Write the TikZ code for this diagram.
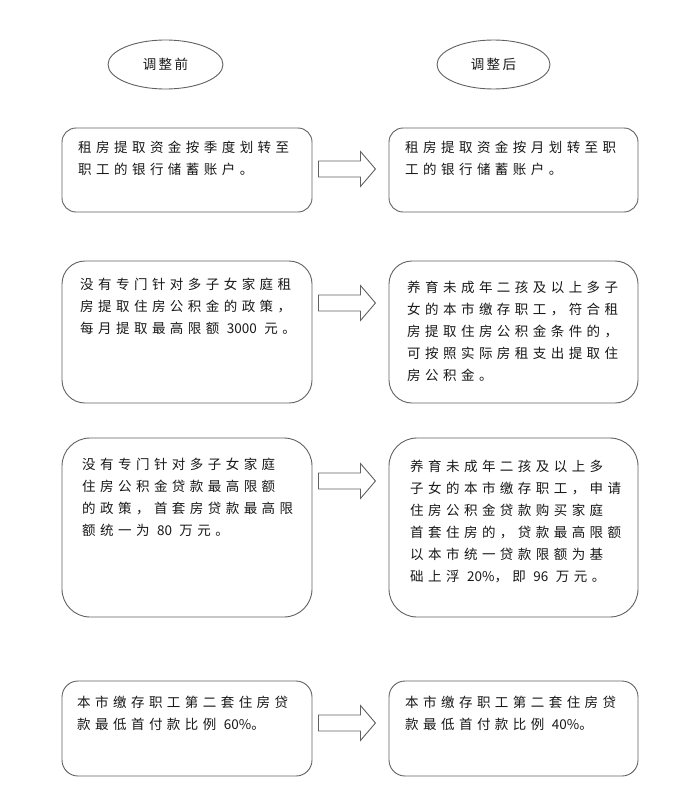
\documentclass[tikz,border=0pt]{standalone}
\usepackage{fontspec}
\newfontfamily\cjk[LetterSpace=33]{Noto Sans CJK SC}
\newfontfamily\cjklat{Noto Sans CJK SC}
\newfontfamily\cjkhead[LetterSpace=18]{Noto Sans CJK SC}
\newcommand{\nm}[1]{{\cjklat #1}}
\usetikzlibrary{shapes.geometric,calc}
\tikzset{
  box/.style={draw=black!62, line width=0.9pt, rounded corners=#1, minimum width=250pt, inner sep=0pt},
  oval/.style={ellipse, draw=black!62, line width=0.9pt, minimum height=49pt, inner sep=0pt,
    font=\cjkhead\fontsize{13.5}{16}\selectfont, text=black!90},
  txt/.style={anchor=north west, inner sep=0pt, align=left,
    font=\cjk\fontsize{13.5}{22}\selectfont, text=black!90},
  blockarrow/.style={draw=black!62, line width=0.9pt, fill=white, line join=miter}
}
\newcommand{\blockarr}[1]{%
  \draw[blockarrow] ($(#1)+(0,8)$) -- ++(42,0) -- ++(0,9.5) -- ++(15,-17.5)
    -- ++(-15,-17.5) -- ++(0,9.5) -- ++(-42,0) -- cycle;}
\begin{document}
\begin{tikzpicture}[x=1pt,y=1pt]
\useasboundingbox (0,0) rectangle (685,-800);
\fill[white] (0,0) rectangle (685,-800);

% headings
\node[oval, minimum width=115pt] (hl) at (165.5,-64.5) {调整前};
\node[oval, minimum width=113pt] (hr) at (493.5,-64.5) {调整后};

% boxes
\node[box=14, minimum height=84pt] (b1l) at (187,-170) {};
\node[box=14, minimum height=84pt, minimum width=249pt] (b1r) at (513.5,-170) {};
\node[box=23, minimum height=142pt] (b2l) at (187,-332) {};
\node[box=23, minimum height=142pt, minimum width=249pt] (b2r) at (513.5,-332) {};
\node[box=28, minimum height=179pt] (b3l) at (187,-527.5) {};
\node[box=28, minimum height=179pt, minimum width=249pt] (b3r) at (513.5,-527.5) {};
\node[box=16, minimum height=95pt] (b4l) at (187,-728.5) {};
\node[box=16, minimum height=95pt, minimum width=249pt] (b4r) at (513.5,-728.5) {};

% texts
\node[txt] (t1l) at (78,-141) {租房提取资金按季度划转至\\职工的银行储蓄账户。};
\node[txt] (t1r) at (405,-141) {租房提取资金按月划转至职\\工的银行储蓄账户。};
\node[txt] (t2l) at (80,-278) {没有专门针对多子女家庭租\\房提取住房公积金的政策，\\每月提取最高限额 \nm{3000} 元。};
\node[txt] (t2r) at (407,-281) {养育未成年二孩及以上多子\\女的本市缴存职工，符合租\\房提取住房公积金条件的，\\可按照实际房租支出提取住\\房公积金。};
\node[txt] (t3l) at (82,-458) {没有专门针对多子女家庭\\住房公积金贷款最高限额\\的政策，首套房贷款最高限\\额统一为 \nm{80} 万元。};
\node[txt] (t3r) at (410,-460) {养育未成年二孩及以上多\\子女的本市缴存职工，申请\\住房公积金贷款购买家庭\\首套住房的，贷款最高限额\\以本市统一贷款限额为基\\础上浮 \nm{20\%}，即 \nm{96} 万元。};
\node[txt] (t4l) at (77,-696) {本市缴存职工第二套住房贷\\款最低首付款比例 \nm{60\%}。};
\node[txt] (t4r) at (405,-696) {本市缴存职工第二套住房贷\\款最低首付款比例 \nm{40\%}。};

% arrows
\coordinate (a1) at ($(b1l.east |- 0,-169)+(6,0)$);
\coordinate (a2) at ($(b2l.east |- 0,-303)+(6,0)$);
\coordinate (a3) at ($(b3l.east |- 0,-481)+(6,0)$);
\coordinate (a4) at ($(b4l.east |- 0,-723)+(6,0)$);
\blockarr{a1}
\blockarr{a2}
\blockarr{a3}
\blockarr{a4}
\end{tikzpicture}
\end{document}
